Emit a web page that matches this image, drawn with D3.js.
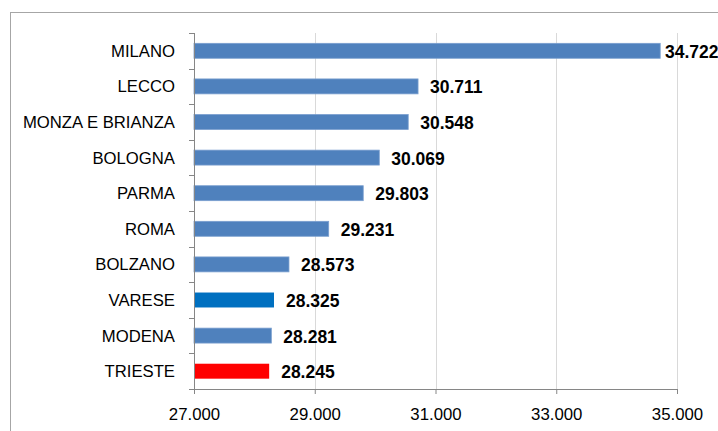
<!DOCTYPE html>
<html>
<head>
<meta charset="utf-8">
<title></title>
<script src="https://cdn.jsdelivr.net/npm/d3@7"></script>
<style>
  body { margin: 0; background: #fff; }
  svg { display: block; font-family: "Liberation Sans", Arial, sans-serif; }
</style>
</head>
<body>
<svg id="svg"></svg>
<script>
var width = 718, height = 431;

// data
var cities = ["MILANO", "LECCO", "MONZA E BRIANZA", "BOLOGNA", "PARMA", "ROMA", "BOLZANO", "VARESE", "MODENA", "TRIESTE"];
var values = [34722, 30711, 30548, 30069, 29803, 29231, 28573, 28325, 28281, 28245];
var xTicks = [27000, 29000, 31000, 33000, 35000];

// colours of the highlighted bars
var barColor = "#4F81BD";
var special = { "VARESE": "#0070C0", "TRIESTE": "#FF0000" };

var it = d3.formatLocale({ decimal: ",", thousands: ".", grouping: [3], currency: ["€", ""] });
var fmt = it.format(",.0f");

var svg = d3.select("#svg").attr("width", width).attr("height", height);

// chart border
svg.append("rect")
  .attr("x", 10.5).attr("y", 12.5)
  .attr("width", 730).attr("height", 440)
  .attr("fill", "none").attr("stroke", "#a6a6a6").attr("stroke-width", 1);

var x = d3.scaleLinear().domain([27000, 35000]).range([194, 677]);
var y = d3.scaleBand().domain(cities).range([33, 389]);
var barH = y.bandwidth() * 0.42;

// vertical gridlines
svg.append("g").selectAll("line")
  .data(xTicks.slice(1))
  .join("line")
  .attr("x1", d => Math.round(x(d)) + 0.5).attr("x2", d => Math.round(x(d)) + 0.5)
  .attr("y1", 33).attr("y2", 389)
  .attr("stroke", "#d9d9d9");

// bars
svg.append("g").selectAll("rect")
  .data(cities)
  .join("rect")
  .attr("x", x(27000))
  .attr("y", d => y(d) + (y.bandwidth() - barH) / 2)
  .attr("width", (d, i) => x(values[i]) - x(27000))
  .attr("height", barH)
  .attr("fill", d => special[d] || barColor)
  .attr("stroke", d => special[d] ? "none" : "#7a9fcf")
  .attr("stroke-width", 0.8);

// value labels
svg.append("g").selectAll("text")
  .data(cities)
  .join("text")
  .attr("x", (d, i) => Math.min(x(values[i]) + 12, width - 53))
  .attr("y", d => y(d) + y.bandwidth() / 2 + 7)
  .attr("font-size", "17.5px")
  .attr("font-weight", "bold")
  .attr("fill", "#000")
  .text((d, i) => fmt(values[i]));

// x axis
var xAxis = svg.append("g")
  .attr("transform", "translate(0,389)")
  .call(d3.axisBottom(x).tickValues(xTicks).tickFormat(fmt).tickSizeInner(5).tickSizeOuter(0).tickPadding(14));
xAxis.select(".domain").attr("stroke", "#868686");
xAxis.selectAll(".tick line").attr("stroke", "#868686");
xAxis.selectAll(".tick text").attr("font-size", "16.8px").attr("fill", "#000")
  .attr("font-family", "Liberation Sans, Arial, sans-serif");

// y axis: line with ticks at category boundaries
var yAxis = svg.append("g");
yAxis.append("line")
  .attr("x1", 194.5).attr("x2", 194.5).attr("y1", 33).attr("y2", 389)
  .attr("stroke", "#868686");
var bounds = cities.map(d => y(d)).concat([y.range()[1]]);
yAxis.selectAll(".yt")
  .data(bounds)
  .join("line")
  .attr("class", "yt")
  .attr("x1", 189).attr("x2", 194.5)
  .attr("y1", d => Math.round(d) + 0.5).attr("y2", d => Math.round(d) + 0.5)
  .attr("stroke", "#868686");
yAxis.selectAll("text")
  .data(cities)
  .join("text")
  .attr("x", 175)
  .attr("y", d => y(d) + y.bandwidth() / 2 + 6)
  .attr("text-anchor", "end")
  .attr("font-size", "16.7px")
  .attr("fill", "#000")
  .text(d => d);
</script>
</body>
</html>
